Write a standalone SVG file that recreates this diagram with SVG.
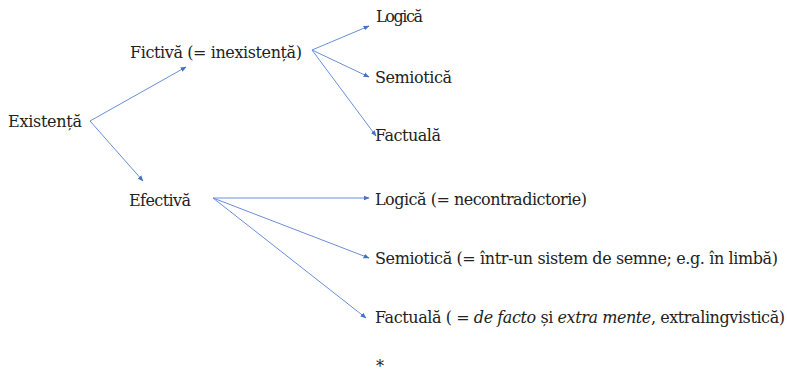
<svg xmlns="http://www.w3.org/2000/svg" width="787" height="376" viewBox="0 0 787 376">
<style>
text{font-family:"DejaVu Serif","Liberation Serif",serif;font-size:16px;fill:#222}
.c line{stroke:#6a8fd6;stroke-width:1;marker-end:url(#a)}
</style>
<defs>
<marker id="a" viewBox="0 0 10 10" refX="9" refY="5" markerWidth="6" markerHeight="6" orient="auto" markerUnits="userSpaceOnUse"><path d="M0,1 L10,5 L0,9 z" fill="#4472c4"/></marker>
</defs>
<rect width="787" height="376" fill="#fff"/>
<g class="c" id="connectors">
<line x1="90" y1="121" x2="186" y2="67"/>
<line x1="90" y1="121" x2="143" y2="181"/>
<line x1="312" y1="50" x2="369" y2="26"/>
<line x1="312" y1="50" x2="369" y2="77"/>
<line x1="312" y1="50" x2="376" y2="136"/>
<line x1="213" y1="198" x2="369" y2="198"/>
<line x1="213" y1="198" x2="369" y2="258"/>
<line x1="213" y1="198" x2="366" y2="318"/>
</g>
<g id="existenta"><text x="8" y="127" textLength="74">Existență</text></g>
<g id="fictiva"><text x="130" y="58" textLength="172">Fictivă (= inexistență)</text></g>
<g id="f-logica"><text x="376" y="22" textLength="47">Logică</text></g>
<g id="f-semiotica"><text x="375" y="83" textLength="77">Semiotică</text></g>
<g id="f-factuala"><text x="375" y="141" textLength="66">Factuală</text></g>
<g id="efectiva"><text x="129" y="206" textLength="62">Efectivă</text></g>
<g id="e-logica"><text x="375" y="205" textLength="212">Logică (= necontradictorie)</text></g>
<g id="e-semiotica"><text x="375" y="264" textLength="403">Semiotică (= într-un sistem de semne; e.g. în limbă)</text></g>
<g id="e-factuala"><text x="375" y="323" textLength="410">Factuală ( = <tspan font-style="italic">de facto</tspan> și <tspan font-style="italic">extra mente</tspan>, extralingvistică)</text></g>
<g id="star"><text x="376" y="372" font-size="15">*</text></g>
</svg>
